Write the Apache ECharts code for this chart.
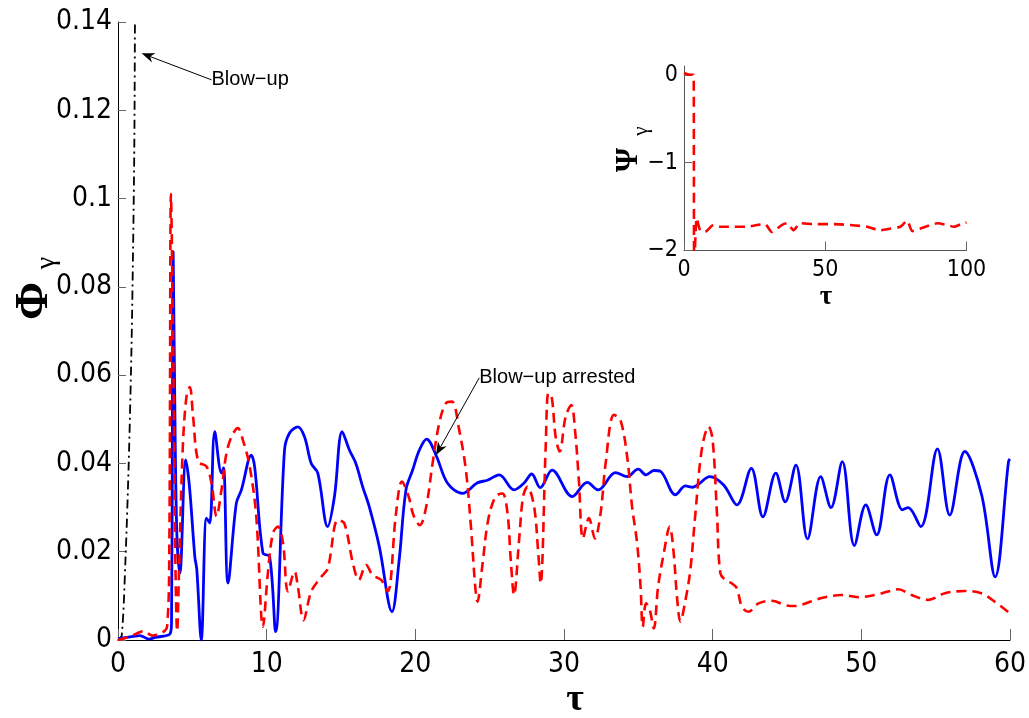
<!DOCTYPE html>
<html><head><meta charset="utf-8">
<script src="https://cdn.jsdelivr.net/npm/echarts@6/dist/echarts.min.js"></script>
<style>html,body{margin:0;padding:0;background:#fff}#c{width:1029px;height:718px}</style>
</head><body><div id="c"></div>
<script>
// ---- data ----
const tauBlue = [0,1.0,1.47,2.1,2.5,3.5,3.6,3.66,3.71,3.8,3.95,4.16,4.56,4.8,5.17,5.3,5.6,5.95,6.17,6.51,6.96,7.1,7.4,7.96,8.3,8.97,9.2,9.75,10.2,10.6,11.2,11.54,12.1,12.55,13.0,13.44,14.1,14.56,15.08,15.57,16.0,16.46,16.9,17.58,18.43,18.9,19.37,19.82,20.27,20.76,21.39,22.17,23.17,24.18,24.85,25.64,26.64,27.3,27.83,28.4,29.2,30.56,31.56,32.3,33.47,34.25,34.99,35.52,36.04,36.49,37.5,38.17,38.66,39.06,39.8,40.74,41.63,42.6,43.38,44.25,44.88,45.6,46.38,47.27,47.96,48.72,49.53,50.3,51.03,51.92,52.77,53.15,54.0,55.12,55.95,56.96,58.1,59.0,59.9,60];
const phiBlue = [0.0003,0.0008,0.001,0.0002,0.0006,0.0014,0.004,0.05,0.088,0.06,0.025,0.0152,0.0408,0.035,0.0188,0.016,0.0,0.0276,0.0265,0.0472,0.0378,0.039,0.0129,0.031,0.034,0.0419,0.039,0.0197,0.0189,0.0019,0.043,0.0469,0.0483,0.046,0.040,0.0378,0.0257,0.0325,0.0472,0.043,0.040,0.0347,0.0302,0.0211,0.0064,0.0177,0.034,0.0385,0.043,0.0455,0.0419,0.0355,0.0332,0.0356,0.0362,0.0374,0.034,0.0355,0.0376,0.0345,0.0385,0.0325,0.0357,0.034,0.0379,0.037,0.0387,0.0374,0.0384,0.0382,0.0329,0.0349,0.0346,0.0353,0.037,0.0351,0.0306,0.0389,0.0279,0.0378,0.0313,0.0396,0.0229,0.037,0.030,0.0404,0.0214,0.0306,0.0238,0.0374,0.0295,0.030,0.0257,0.0433,0.0283,0.0427,0.0328,0.0143,0.0404,0.041];

const tauRed = [0,0.8,1.5,1.75,2.3,3.0,3.3,3.45,3.56,3.7,3.85,3.98,4.1,4.35,4.6,4.83,5.05,5.4,5.95,6.29,6.63,6.96,7.4,8.07,8.4,8.86,9.3,9.75,10.08,10.42,10.76,11.1,11.43,11.88,12.1,12.48,13.0,13.67,14.11,14.79,15.23,15.8,16.2,16.69,17.13,17.7,18.14,18.7,19.1,19.55,19.87,20.3,20.72,21.16,21.6,22.05,22.46,22.95,23.4,23.74,24.03,24.18,24.5,24.9,25.4,25.86,26.2,26.42,26.64,26.98,27.25,27.54,27.99,28.27,28.43,28.77,28.95,29.17,29.44,29.71,30.11,30.49,30.74,31.0,31.28,31.68,32.08,32.46,32.8,33.36,33.8,34.25,34.58,34.92,35.15,35.3,35.52,35.77,36.04,36.33,36.71,37.11,37.38,37.6,37.83,38.17,38.5,38.84,39.28,39.73,40.0,40.29,40.52,40.9,41.3,41.63,41.97,42.4,43.09,43.98,44.88,45.55,46.66,47.56,48.68,49.8,50.92,51.81,52.48,53.38,54.5,55.62,56.96,58.07,58.97,60];
const phiRed = [0,0.0008,0.0018,0.002,0.001,0.0017,0.003,0.02,0.101,0.07,0.02,0.002,0.015,0.043,0.055,0.0573,0.0506,0.0404,0.0393,0.0355,0.028,0.034,0.0438,0.048,0.0453,0.0393,0.028,0.003,0.0151,0.0242,0.0257,0.022,0.011,0.0155,0.0121,0.0045,0.011,0.0143,0.0162,0.0272,0.0264,0.0174,0.0136,0.017,0.0147,0.0136,0.011,0.0287,0.0359,0.0325,0.0283,0.026,0.030,0.040,0.049,0.0536,0.054,0.0476,0.0385,0.0257,0.0121,0.0087,0.0166,0.0272,0.0325,0.0332,0.0287,0.0181,0.0102,0.0227,0.0325,0.0347,0.0302,0.0196,0.0128,0.0438,0.0559,0.0551,0.046,0.0427,0.0506,0.0532,0.0476,0.0362,0.023,0.0276,0.023,0.0287,0.040,0.051,0.0498,0.0415,0.0302,0.0219,0.0121,0.003,0.0083,0.0068,0.0026,0.0121,0.0196,0.0257,0.0196,0.0098,0.0042,0.009,0.0159,0.0287,0.0434,0.0483,0.0453,0.0287,0.0151,0.0135,0.0128,0.0117,0.0075,0.0064,0.0083,0.0089,0.0079,0.0077,0.0088,0.0097,0.0102,0.0097,0.0102,0.011,0.0115,0.0102,0.0091,0.0106,0.0111,0.0106,0.0087,0.006];

const tauBlack = [0,0.25,0.5,0.72,0.9,1.02,1.1,1.14,1.17];
const phiBlack = [0,0.001,0.018,0.04,0.065,0.09,0.113,0.14,0.16];

const tauInset = [0,2,3.4,3.5,3.6,4.5,5.7,7.4,10.4,12.8,16.3,19.9,22.2,25.8,28.7,31.1,34.6,36.4,38.8,41.1,47,53,58.9,64.8,69.5,73.1,76.6,79,80.8,83.7,87.3,89.7,93.2,95.6,98,100];
const psiInset = [0.02,0,0,-1.0,-2.2,-1.63,-1.77,-1.79,-1.71,-1.73,-1.73,-1.73,-1.73,-1.71,-1.70,-1.79,-1.71,-1.69,-1.77,-1.69,-1.70,-1.70,-1.71,-1.73,-1.77,-1.75,-1.73,-1.66,-1.78,-1.75,-1.71,-1.69,-1.71,-1.73,-1.70,-1.68];

const mainXTicks = {min:0, max:60, step:10};
const mainYTicks = {min:0, max:0.14, step:0.02};
const insetXTicks = {min:0, max:100, step:50};
const insetYTicks = {min:-2, max:0.1, step:1};

const annBlowUp = {text:'Blow\u2212up', tip:[1.59,0.1329], tail:[6.29,0.1269]};
const annArrest = {text:'Blow\u2212up arrested', tip:[21.39,0.0419], tail:[24.3,0.0594]};

// ---- chart ----
const pairs = (xs, ys) => xs.map((x, i) => [x, ys[i]]);
const narrow = '"Liberation Sans Narrow","Arial Narrow","DejaVu Sans Condensed","Liberation Sans",sans-serif';
const chart = echarts.init(document.getElementById('c'), null, {renderer:'canvas'});

function axisBase(color){
  return {
    type:'value',
    axisLine:{show:true, onZero:false, lineStyle:{color:color, width:1}},
    splitLine:{show:false},
  };
}
const fmt2 = v => String(parseFloat(v.toFixed(2)));
const fmtInt = v => Math.abs(v - Math.round(v)) < 1e-9 ? (v < 0 ? '\u2212' + (-Math.round(v)) : String(Math.round(v))) : '';

chart.setOption({
  animation:false,
  backgroundColor:'#fff',
  grid:[
    {left:118, top:22, width:893, height:618},
    {left:684, top:66, width:282.5, height:184.5}
  ],
  xAxis:[
    Object.assign(axisBase('#000'), {gridIndex:0, min:mainXTicks.min, max:mainXTicks.max, interval:mainXTicks.step,
      axisTick:{show:true, inside:true, length:11, lineStyle:{color:'#666'}},
      axisLabel:{fontSize:28, fontFamily:narrow, color:'#000', margin:11}}),
    Object.assign(axisBase('#555'), {gridIndex:1, min:insetXTicks.min, max:insetXTicks.max, interval:insetXTicks.step,
      axisTick:{show:true, inside:true, length:9, lineStyle:{color:'#666'}},
      axisLabel:{fontSize:23, fontFamily:narrow, color:'#000', margin:8}})
  ],
  yAxis:[
    Object.assign(axisBase('#000'), {gridIndex:0, min:mainYTicks.min, max:mainYTicks.max, interval:mainYTicks.step,
      axisTick:{show:true, inside:true, length:8, lineStyle:{color:'#666'}},
      axisLabel:{fontSize:28, fontFamily:narrow, color:'#000', margin:6, formatter:fmt2}}),
    Object.assign(axisBase('#555'), {gridIndex:1, min:insetYTicks.min, max:insetYTicks.max, interval:insetYTicks.step,
      axisTick:{show:true, inside:true, length:8, lineStyle:{color:'#666'}, customValues:[-2,-1,0]},
      axisLabel:{fontSize:23, fontFamily:narrow, color:'#000', margin:6, formatter:fmtInt, customValues:[-2,-1,0]}})
  ],
  series:[
    {type:'line', xAxisIndex:0, yAxisIndex:0, data:pairs(tauBlack, phiBlack), showSymbol:false, clip:true, smooth:0.3,
      lineStyle:{color:'#000', width:1.8, type:[9,4,2,4]}, z:2},
    {type:'line', xAxisIndex:0, yAxisIndex:0, data:pairs(tauBlue, phiBlue), showSymbol:false, clip:true, smooth:0.35,
      lineStyle:{color:'#0000ff', width:2.8}, z:3},
    {type:'line', xAxisIndex:0, yAxisIndex:0, data:pairs(tauRed, phiRed), showSymbol:false, clip:true, smooth:0.35,
      lineStyle:{color:'#ff0000', width:2.6, type:[10,6]}, z:4},
    {type:'line', xAxisIndex:1, yAxisIndex:1, data:pairs(tauInset, psiInset), showSymbol:false, clip:true, smooth:0.2,
      lineStyle:{color:'#ff0000', width:2.6, type:[10,6]}, z:4}
  ]
});

function arrow(ann){
  const tip = chart.convertToPixel({gridIndex:0}, ann.tip);
  const tail = chart.convertToPixel({gridIndex:0}, ann.tail);
  const dx = tail[0]-tip[0], dy = tail[1]-tip[1];
  const L = Math.hypot(dx, dy), ux = dx/L, uy = dy/L, px = -uy, py = ux;
  const bx = tip[0]+13*ux, by = tip[1]+13*uy;
  const ix = tip[0]+9*ux, iy = tip[1]+9*uy;
  return [
    {type:'line', shape:{x1:tail[0], y1:tail[1], x2:ix, y2:iy}, style:{stroke:'#000', lineWidth:1}, z:10},
    {type:'polygon', shape:{points:[[tip[0],tip[1]],[bx+5*px,by+5*py],[ix,iy],[bx-5*px,by-5*py]]}, style:{fill:'#000'}, z:10},
    {type:'text', x:tail[0], y:tail[1], style:{text:ann.text, font:'20px "Liberation Sans", Arial, sans-serif', fill:'#000', align:'left', verticalAlign:'middle'}, z:10}
  ];
}

const serif = '"Liberation Serif","DejaVu Serif",serif';
chart.setOption({
  graphic:[].concat(arrow(annBlowUp), arrow(annArrest), [
    {type:'text', x:35, y:301, rotation:Math.PI/2, style:{text:'\u03A6', font:'bold 46px '+serif, fill:'#000', align:'center', verticalAlign:'middle'}},
    {type:'text', x:47, y:263, rotation:Math.PI/2, style:{text:'\u03B3', font:'28px '+serif, fill:'#000', align:'center', verticalAlign:'middle'}},
    {type:'text', x:575, y:700, style:{text:'\u03C4', font:'bold 38px '+serif, fill:'#000', align:'center', verticalAlign:'middle'}},
    {type:'text', x:629, y:160, rotation:Math.PI/2, style:{text:'\u03A8', font:'bold 31px '+serif, fill:'#000', align:'center', verticalAlign:'middle'}},
    {type:'text', x:641, y:131, rotation:Math.PI/2, style:{text:'\u03B3', font:'21px '+serif, fill:'#000', align:'center', verticalAlign:'middle'}},
    {type:'text', x:826, y:297, style:{text:'\u03C4', font:'bold 27px '+serif, fill:'#000', align:'center', verticalAlign:'middle'}}
  ])
});
</script>
</body></html>
